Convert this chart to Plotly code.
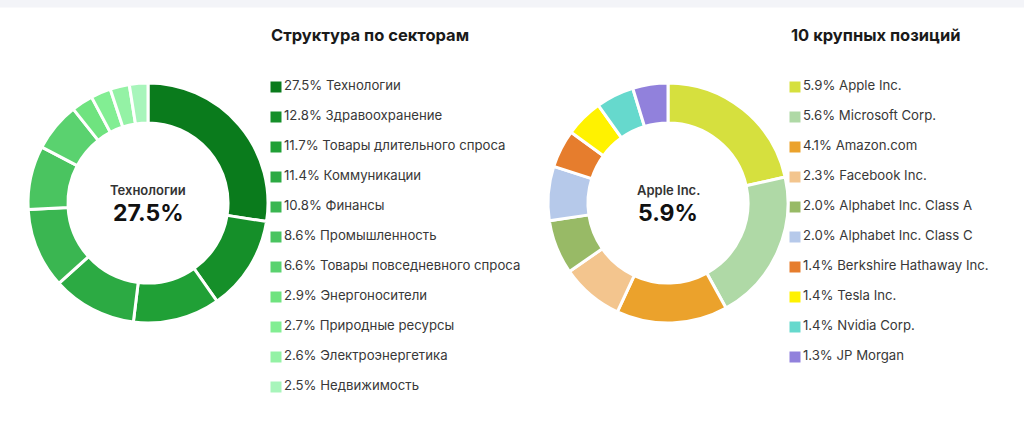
import plotly.graph_objects as go

# --- data ---
sector_names = ["Технологии", "Здравоохранение", "Товары длительного спроса",
                "Коммуникации", "Финансы", "Промышленность",
                "Товары повседневного спроса", "Энергоносители",
                "Природные ресурсы", "Электроэнергетика", "Недвижимость"]
sector_values = [27.5, 12.8, 11.7, 11.4, 10.8, 8.6, 6.6, 2.9, 2.7, 2.6, 2.5]
sector_colors = ["#0a7b1c", "#158f29", "#20a036", "#2caa43", "#3ab651",
                 "#4ac460", "#5ad26f", "#6fe37f", "#82ee93", "#94f2a5", "#a8f5bb"]

top_names = ["Apple Inc.", "Microsoft Corp.", "Amazon.com", "Facebook Inc.",
             "Alphabet Inc. Class A", "Alphabet Inc. Class C",
             "Berkshire Hathaway Inc.", "Tesla Inc.", "Nvidia Corp.", "JP Morgan"]
top_values = [5.9, 5.6, 4.1, 2.3, 2.0, 2.0, 1.4, 1.4, 1.4, 1.3]
top_colors = ["#d6e03e", "#afd9a6", "#eba22c", "#f3c58e", "#98ba66",
              "#b6c9ea", "#e67d2d", "#fff200", "#66d9cd", "#9181dc"]

W, H = 1024, 433
FONT = "Inter"


def px_x(p):
    return p / W


def px_y(p):
    return 1 - p / H


fig = go.Figure()

# donuts
pie_common = dict(hole=0.667, sort=False, direction="clockwise", rotation=0,
                  textinfo="none", showlegend=False, hoverinfo="label+percent")

fig.add_trace(go.Pie(labels=sector_names, values=sector_values,
                     marker=dict(colors=sector_colors, line=dict(color="white", width=3)),
                     domain=dict(x=[px_x(28), px_x(268)], y=[px_y(323), px_y(83)]),
                     **pie_common))
fig.add_trace(go.Pie(labels=top_names, values=top_values,
                     marker=dict(colors=top_colors, line=dict(color="white", width=3)),
                     domain=dict(x=[px_x(548), px_x(788)], y=[px_y(323), px_y(83)]),
                     **pie_common))

# legends as square markers + text
fig.add_trace(go.Scatter(
    x=[0] * len(sector_names), y=list(range(len(sector_names))),
    mode="markers+text",
    marker=dict(symbol="square", size=11, color=sector_colors),
    text=[f"{v}% {n}" for v, n in zip(sector_values, sector_names)],
    textposition="middle right",
    textfont=dict(family=FONT, size=13.2, color="#383838"),
    hoverinfo="skip", showlegend=False, xaxis="x", yaxis="y", cliponaxis=False))
fig.add_trace(go.Scatter(
    x=[0] * len(top_names), y=list(range(len(top_names))),
    mode="markers+text",
    marker=dict(symbol="square", size=11, color=top_colors),
    text=[f"{v}% {n}" for v, n in zip(top_values, top_names)],
    textposition="middle right",
    textfont=dict(family=FONT, size=13.2, color="#383838"),
    hoverinfo="skip", showlegend=False, xaxis="x2", yaxis="y", cliponaxis=False))


def center_label(x, text, size, weight, color, y):
    return dict(text=text, x=px_x(x), y=px_y(y), xref="paper", yref="paper",
                xanchor="center", yanchor="middle", showarrow=False,
                font=dict(size=size, color=color, weight=weight))


hidden = dict(visible=False, showgrid=False, zeroline=False, fixedrange=True)
fig.update_layout(
    width=W, height=H,
    margin=dict(l=0, r=0, t=0, b=0),
    paper_bgcolor="white", plot_bgcolor="rgba(0,0,0,0)",
    font=dict(family=FONT, color="#222222"),
    xaxis=dict(domain=[px_x(276), px_x(500)], range=[0, 1], **hidden),
    xaxis2=dict(domain=[px_x(795), px_x(1020)], range=[0, 1], **hidden),
    yaxis=dict(domain=[px_y(402), px_y(72)], range=[10.5, -0.5], **hidden),
    shapes=[dict(type="rect", xref="paper", yref="paper", x0=0, x1=1,
                 y0=px_y(7.5), y1=1, fillcolor="#f3f4f8", line=dict(width=0), layer="below")],
    annotations=[
        dict(text="Структура по секторам", x=px_x(269), y=px_y(35),
             xref="paper", yref="paper", xanchor="left", yanchor="middle",
             showarrow=False, font=dict(size=16.5, color="#1a1a1a", weight=700)),
        dict(text="10 крупных позиций", x=px_x(789), y=px_y(35),
             xref="paper", yref="paper", xanchor="left", yanchor="middle",
             showarrow=False, font=dict(size=16.5, color="#1a1a1a", weight=700)),
        center_label(148, sector_names[0], 13, 600, "#333333", 190),
        center_label(148, f"{sector_values[0]}%", 23, 700, "#111111", 213),
        center_label(668, top_names[0], 13, 600, "#333333", 190),
        center_label(668, f"{top_values[0]}%", 23, 700, "#111111", 213),
    ],
)

fig.write_html("out.html", config={"displayModeBar": False},
               post_script="document.body.style.margin='0';")
